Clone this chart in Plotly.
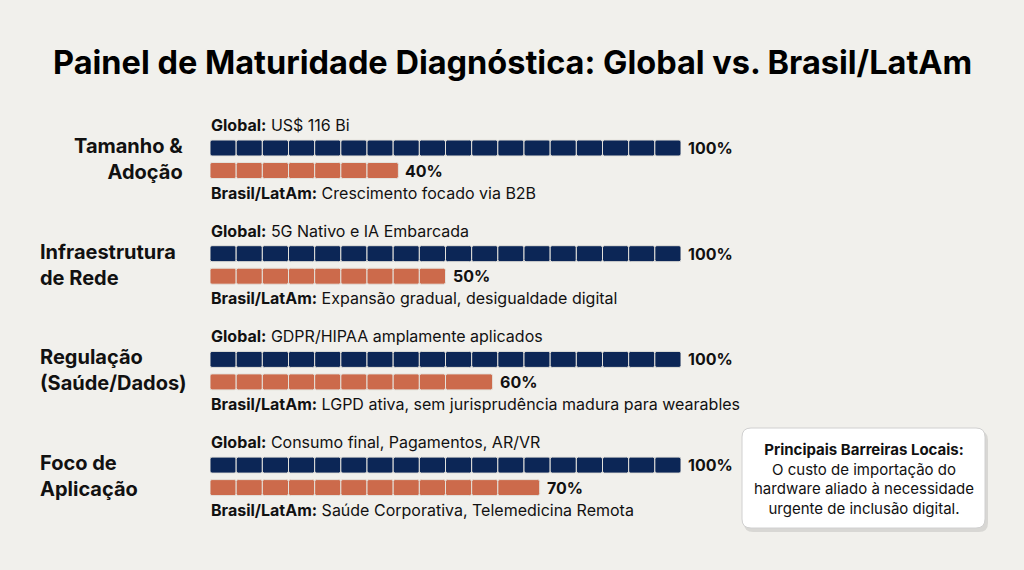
import math
import plotly.graph_objects as go

categorias = ["Tamanho &<br>Adoção", "Infraestrutura<br>de Rede", "Regulação<br>(Saúde/Dados)", "Foco de<br>Aplicação"]
global_vals = [100, 100, 100, 100]
brasil_vals = [40, 50, 60, 70]
global_txt = ["US$ 116 Bi", "5G Nativo e IA Embarcada", "GDPR/HIPAA amplamente aplicados",
              "Consumo final, Pagamentos, AR/VR"]
brasil_txt = ["Crescimento focado via B2B", "Expansão gradual, desigualdade digital",
              "LGPD ativa, sem jurisprudência madura para wearables",
              "Saúde Corporativa, Telemedicina Remota"]
titulo = "Painel de Maturidade Diagnóstica: Global vs. Brasil/LatAm"
caixa_titulo = "Principais Barreiras Locais:"
caixa_txt = "O custo de importação do<br>hardware aliado à necessidade<br>urgente de inclusão digital."

NAVY = "#0c2656"
ORANGE = "#cc6a4b"
BG = "#f1f0ec"
SEG = 100 / 18
W, H = 1024, 570

# pixel rows (y axis runs in pixels, top to bottom)
row0 = 148
step = 105.7


def segmentos(v):
    n = max(1, int(math.floor(v / SEG + 1e-9)))
    starts = [i * SEG for i in range(n)]
    lens = [SEG] * (n - 1) + [v - (n - 1) * SEG]
    return starts, lens


fig = go.Figure()
for i in range(len(categorias)):
    yg = row0 + i * step
    yb = yg + 22.5
    for val, yy, col in [(global_vals[i], yg, NAVY), (brasil_vals[i], yb, ORANGE)]:
        st, ln = segmentos(val)
        fig.add_trace(go.Bar(orientation="h", x=ln, base=st, y=[yy] * len(st), width=16,
                             marker=dict(color=col, line=dict(color="#e4e2dc", width=1)),
                             hoverinfo="skip", showlegend=False))
        fig.add_annotation(x=val, y=yy, xref="x", yref="y", text="<b>%d%%</b>" % val,
                           xanchor="left", xshift=5, showarrow=False,
                           font=dict(size=16, color="#111"))
    fig.add_annotation(x=209 / W, y=yg - 23, xref="paper", yref="y",
                       text="<b>Global:</b> " + global_txt[i], xanchor="left",
                       showarrow=False, font=dict(size=16, color="#111"))
    fig.add_annotation(x=209 / W, y=yb + 22, xref="paper", yref="y",
                       text="<b>Brasil/LatAm:</b> " + brasil_txt[i], xanchor="left",
                       showarrow=False, font=dict(size=16, color="#111"))
    if i == 0:
        fig.add_annotation(x=185 / W, y=yg + 11, xref="paper", yref="y",
                           text="<b>" + categorias[i] + "</b>", xanchor="right", align="right",
                           showarrow=False, font=dict(size=20, color="#111"))
    else:
        fig.add_annotation(x=38 / W, y=yg + 11, xref="paper", yref="y",
                           text="<b>" + categorias[i] + "</b>", xanchor="left", align="left",
                           showarrow=False, font=dict(size=20, color="#111"))


def rrect(x0, y0, x1, y1, r):
    # rounded rectangle in paper fractions, from pixel inputs
    def px(v):
        return v / W

    def py(v):
        return 1 - v / H
    return (f"M{px(x0+r)},{py(y0)} L{px(x1-r)},{py(y0)} Q{px(x1)},{py(y0)} {px(x1)},{py(y0+r)} "
            f"L{px(x1)},{py(y1-r)} Q{px(x1)},{py(y1)} {px(x1-r)},{py(y1)} "
            f"L{px(x0+r)},{py(y1)} Q{px(x0)},{py(y1)} {px(x0)},{py(y1-r)} "
            f"L{px(x0)},{py(y0+r)} Q{px(x0)},{py(y0)} {px(x0+r)},{py(y0)} Z")


# info box
fig.add_shape(type="path", path=rrect(744, 431, 988, 532, 9), xref="paper", yref="paper",
              fillcolor="rgba(0,0,0,0.10)", line=dict(width=0), layer="above")
fig.add_shape(type="path", path=rrect(742, 428, 985, 528, 9), xref="paper", yref="paper",
              fillcolor="white", line=dict(color="#d0d0d0", width=1), layer="above")
fig.add_annotation(x=863.5 / W, y=479, xref="paper", yref="y", xanchor="center",
                   text="<b>" + caixa_titulo + "</b><br>" + caixa_txt, showarrow=False,
                   align="center", font=dict(size=15, color="#111"))

fig.add_annotation(x=0.5, y=62, xref="paper", yref="y", xanchor="center",
                   text="<b>" + titulo + "</b>",
                   showarrow=False, font=dict(size=32.5, color="#000"))

fig.update_layout(
    width=W, height=H, margin=dict(l=0, r=0, t=0, b=0),
    paper_bgcolor=BG, plot_bgcolor=BG, barmode="overlay", barcornerradius=2,
    font=dict(family="Inter, Roboto, sans-serif"),
    xaxis=dict(domain=[210 / W, 681 / W], range=[0, 100], visible=False, fixedrange=True),
    yaxis=dict(domain=[0, 1], range=[H, 0], visible=False),
)
fig.write_html("out.html", config={"displayModeBar": False},
               post_script="document.body.style.margin='0';document.body.style.background='%s';" % BG)
